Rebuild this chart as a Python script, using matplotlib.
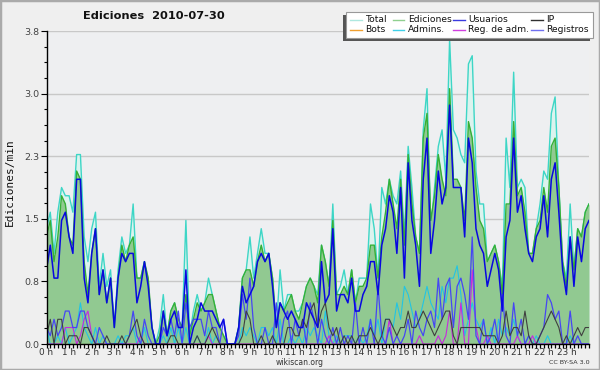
import numpy as np
import matplotlib
matplotlib.use("Agg")
import matplotlib.pyplot as plt
from matplotlib.patches import Rectangle
from matplotlib.lines import Line2D
from matplotlib.ticker import MultipleLocator, FixedLocator, FuncFormatter

# ---- data: edits per minute, 10-minute steps, 2010-07-30 ----
total = [1.4,1.6,1.1,1.6,1.9,1.8,1.8,1.6,2.3,2.3,1.3,1.0,
         1.4,1.6,0.7,1.1,0.7,0.9,0.2,0.9,1.3,1.1,1.2,1.7,
         0.8,0.8,1.0,0.7,0.2,0.0,0.2,0.6,0.1,0.4,0.5,0.3,
         0.2,1.5,0.1,0.4,0.6,0.4,0.5,0.8,0.6,0.4,0.2,0.1,
         0.0,0.0,0.0,0.2,0.8,0.9,1.3,0.8,1.1,1.4,1.1,1.1,
         0.8,0.2,0.9,0.4,0.6,0.6,0.4,0.4,0.5,0.7,0.8,0.7,
         0.6,1.2,1.0,0.7,1.7,0.6,0.7,0.9,0.6,0.9,0.5,0.8,
         0.8,0.8,1.7,1.4,0.8,1.9,1.7,2.0,1.8,1.7,2.1,1.3,
         2.4,1.9,1.3,1.1,2.6,3.1,1.4,1.9,2.4,2.6,2.0,3.7,
         2.6,2.5,2.3,2.2,3.4,3.5,2.1,1.7,1.7,1.0,1.1,1.2,
         1.0,0.7,2.5,1.9,3.3,1.9,2.0,1.9,1.1,1.1,1.4,1.7,
         2.1,2.0,2.8,3.0,1.9,1.0,0.8,1.7,0.9,1.4,1.3,1.6,
         1.7]
ediciones = [1.3,1.5,1.0,1.3,1.8,1.7,1.3,1.2,2.1,2.0,1.0,0.6,
             1.1,1.4,0.6,0.9,0.5,0.8,0.2,0.8,1.2,1.0,1.2,1.3,
             0.8,0.8,1.0,0.8,0.2,0.0,0.1,0.4,0.1,0.4,0.5,0.3,
             0.2,0.6,0.1,0.3,0.5,0.4,0.5,0.6,0.6,0.4,0.2,0.1,
             0.0,0.0,0.0,0.2,0.8,0.9,0.9,0.7,1.0,1.2,1.0,1.1,
             0.8,0.2,0.5,0.4,0.5,0.6,0.4,0.3,0.5,0.7,0.8,0.7,
             0.5,1.2,1.0,0.7,1.5,0.6,0.6,0.7,0.6,0.9,0.5,0.7,
             0.7,0.8,1.2,1.2,0.8,1.3,1.6,2.0,1.7,1.4,2.0,1.2,
             2.3,1.7,1.3,1.1,2.5,2.8,1.5,1.8,2.3,2.0,1.8,3.1,
             2.0,2.0,1.9,1.5,2.7,2.5,1.9,1.5,1.4,1.0,1.1,1.2,
             1.0,0.6,1.7,1.7,2.7,1.8,1.9,1.6,1.1,1.1,1.4,1.5,
             1.9,1.6,2.4,2.5,1.9,1.0,0.7,1.3,0.9,1.4,1.3,1.6,
             1.7]
usuarios = [0.9,1.2,0.8,0.8,1.5,1.6,1.3,1.1,2.0,2.0,0.8,0.5,
            1.1,1.4,0.6,0.9,0.5,0.8,0.2,0.8,1.1,1.0,1.1,1.1,
            0.5,0.7,1.0,0.7,0.2,0.0,0.0,0.4,0.1,0.3,0.4,0.2,
            0.2,0.9,0.0,0.2,0.3,0.5,0.4,0.4,0.4,0.3,0.2,0.3,
            0.0,0.0,0.0,0.2,0.7,0.5,0.6,0.7,1.0,1.1,1.0,1.1,
            0.7,0.2,0.5,0.4,0.3,0.4,0.3,0.2,0.2,0.5,0.4,0.3,
            0.2,1.0,0.5,0.6,1.4,0.4,0.6,0.6,0.5,0.8,0.4,0.4,
            0.6,0.7,1.0,1.0,0.6,1.2,1.4,1.8,1.6,1.1,1.9,0.8,
            2.2,1.5,1.2,0.7,2.0,2.5,1.1,1.5,2.1,1.7,1.9,2.9,
            1.9,1.9,1.9,1.3,2.5,2.2,1.4,1.2,1.1,0.7,0.9,1.1,
            0.9,0.4,1.3,1.5,2.5,1.6,1.8,1.4,1.1,1.0,1.3,1.4,
            1.8,1.3,2.0,2.2,1.6,0.9,0.6,1.3,0.7,1.3,1.0,1.4,
            1.5]
ip = [0.1,0.3,0.0,0.3,0.3,0.0,0.1,0.1,0.1,0.0,0.2,0.2,
      0.1,0.0,0.0,0.0,0.1,0.0,0.0,0.0,0.1,0.0,0.1,0.2,
      0.3,0.1,0.0,0.0,0.0,0.0,0.0,0.0,0.0,0.1,0.1,0.0,
      0.0,0.0,0.0,0.0,0.1,0.0,0.0,0.1,0.2,0.1,0.0,0.0,
      0.0,0.0,0.0,0.0,0.1,0.4,0.3,0.0,0.0,0.1,0.0,0.0,
      0.1,0.0,0.0,0.0,0.2,0.2,0.1,0.1,0.3,0.2,0.4,0.5,
      0.2,0.4,0.5,0.2,0.1,0.2,0.0,0.1,0.0,0.1,0.0,0.1,
      0.1,0.1,0.2,0.1,0.0,0.1,0.3,0.3,0.2,0.1,0.2,0.2,
      0.4,0.2,0.2,0.3,0.4,0.3,0.2,0.1,0.2,0.3,0.4,0.4,
      0.1,0.0,0.2,0.2,0.2,0.2,0.2,0.2,0.1,0.1,0.1,0.1,
      0.0,0.1,0.4,0.1,0.2,0.2,0.1,0.4,0.1,0.0,0.0,0.1,
      0.2,0.3,0.4,0.3,0.2,0.0,0.1,0.0,0.1,0.2,0.1,0.2,
      0.2]
bots = [0.0] * 145
admins = [0.2,0.0,0.0,0.1,0.0,0.2,0.0,0.1,0.2,0.5,0.2,0.1,
          0.0,0.2,0.0,0.1,0.0,0.0,0.0,0.1,0.0,0.1,0.1,0.2,
          0.0,0.0,0.2,0.0,0.0,0.0,0.0,0.1,0.0,0.2,0.0,0.2,
          0.0,0.2,0.0,0.0,0.1,0.0,0.0,0.2,0.0,0.1,0.0,0.0,
          0.0,0.0,0.0,0.0,0.2,0.1,0.2,0.1,0.0,0.2,0.2,0.1,
          0.2,0.0,0.3,0.0,0.0,0.1,0.0,0.1,0.0,0.2,0.1,0.2,
          0.1,0.0,0.4,0.1,0.0,0.1,0.0,0.1,0.1,0.1,0.0,0.1,
          0.0,0.1,0.3,0.1,0.3,0.0,0.3,0.3,0.2,0.5,0.3,0.7,
          0.6,0.4,0.2,0.3,0.5,0.7,0.5,0.4,0.3,0.7,0.5,0.8,
          0.8,0.95,0.6,0.1,0.3,0.5,0.3,0.2,0.3,0.0,0.2,0.0,
          0.3,0.1,0.2,0.1,0.3,0.1,0.0,0.0,0.1,0.0,0.1,0.0,
          0.0,0.1,0.0,0.0,0.0,0.0,0.0,0.1,0.0,0.0,0.0,0.0,
          0.0]
reg_adm = [0.0,0.0,0.0,0.0,0.0,0.2,0.2,0.2,0.0,0.1,0.3,0.4,
           0.1,0.0,0.0,0.0,0.0,0.0,0.0,0.0,0.0,0.0,0.0,0.0,
           0.0,0.1,0.0,0.0,0.0,0.0,0.0,0.0,0.0,0.0,0.0,0.0,
           0.0,0.0,0.0,0.0,0.0,0.0,0.0,0.1,0.0,0.0,0.0,0.0,
           0.0,0.0,0.0,0.0,0.0,0.0,0.0,0.0,0.0,0.0,0.0,0.0,
           0.0,0.0,0.0,0.0,0.0,0.0,0.0,0.0,0.0,0.0,0.0,0.0,
           0.0,0.0,0.0,0.1,0.0,0.0,0.0,0.0,0.0,0.0,0.0,0.0,
           0.0,0.0,0.0,0.0,0.0,0.0,0.0,0.3,0.0,0.0,0.0,0.0,
           0.0,0.0,0.0,0.1,0.0,0.0,0.0,0.0,0.1,0.0,0.1,0.4,
           0.0,0.0,0.5,0.0,0.0,0.9,0.2,0.0,0.0,0.1,0.0,0.0,
           0.0,0.0,0.0,0.0,0.0,0.1,0.0,0.0,0.0,0.1,0.0,0.0,
           0.0,0.0,0.0,0.0,0.0,0.0,0.0,0.0,0.0,0.0,0.0,0.0,
           0.0]
registros = [0.2,0.1,0.3,0.1,0.2,0.4,0.4,0.2,0.2,0.4,0.4,0.2,
             0.1,0.0,0.2,0.1,0.0,0.0,0.0,0.0,0.0,0.0,0.1,0.4,
             0.1,0.0,0.3,0.1,0.0,0.0,0.0,0.2,0.1,0.3,0.1,0.4,
             0.0,0.5,0.2,0.3,0.3,0.3,0.1,0.4,0.2,0.2,0.0,0.3,
             0.0,0.0,0.0,0.1,0.6,0.3,0.8,0.2,0.0,0.0,0.2,0.0,
             0.0,0.5,0.0,0.3,0.4,0.0,0.3,0.1,0.3,0.0,0.5,0.3,
             0.0,0.3,0.1,0.0,0.2,0.0,0.2,0.0,0.1,0.0,0.5,0.0,
             0.2,0.0,0.3,0.0,0.7,0.1,0.0,0.2,0.0,0.1,0.0,0.1,
             0.3,0.0,0.4,0.2,0.1,0.3,0.4,0.2,0.8,0.3,0.7,0.8,
             0.2,0.7,0.8,0.6,0.3,1.3,0.1,0.0,0.3,0.0,0.1,0.3,
             0.0,0.6,0.1,0.0,0.5,0.1,0.3,0.0,0.1,0.0,0.0,0.1,
             0.2,0.6,0.5,0.3,0.4,0.0,0.0,0.4,0.0,0.1,0.0,0.0,
             0.0]

legend_labels = ["Total", "Ediciones", "Usuarios", "IP",
                 "Bots", "Admins.", "Reg. de adm.", "Registros"]
title_text = "Ediciones  2010-07-30"
ylabel_text = "Ediciones/min"
y_ticks = [0.0, 0.76, 1.52, 2.28, 3.04, 3.8]
hours = list(range(24))

# ---- figure ----
W, H = 600, 370
fig = plt.figure(figsize=(6, 3.7), dpi=100, facecolor="#efefef")

def fx(px):
    return px / W

def fy(py):
    return 1 - py / H

ax = fig.add_axes([fx(46.5), fy(344), (589 - 46.5) / W, (344 - 31) / H])
ax.set_facecolor("#eeeff1")

x = np.arange(len(total)) / 6.0

ax.fill_between(x, total, color="#dcf3ee", lw=0, zorder=2)
ax.plot(x, total, color="#3dd6c6", lw=1.0, zorder=3)
ax.fill_between(x, ediciones, color="#91c991", lw=0, zorder=4)
ax.plot(x, ediciones, color="#36b036", lw=1.0, zorder=5)
ax.plot(x, bots, color="#f0a030", lw=0.8, zorder=5)
ax.plot(x, admins, color="#22c4e4", lw=0.8, zorder=6)
ax.plot(x, reg_adm, color="#c828e0", lw=0.8, zorder=6)
ax.plot(x, registros, color="#4646f4", lw=0.9, zorder=6)
ax.plot(x, ip, color="#404040", lw=0.8, zorder=7)
ax.plot(x, usuarios, color="#0808e0", lw=1.1, zorder=8)

ax.set_xlim(0, 24)
ax.set_ylim(0, 3.8)

for s in ("top", "right"):
    ax.spines[s].set_visible(False)
for s in ("left", "bottom"):
    ax.spines[s].set_color("black")
    ax.spines[s].set_linewidth(1.0)
    ax.spines[s].set_zorder(10)

ax.yaxis.set_major_locator(FixedLocator(y_ticks))
ax.yaxis.set_major_formatter(FuncFormatter(lambda v, p: f"{v:.1f}"))
ax.yaxis.set_minor_locator(MultipleLocator(0.19))
ax.xaxis.set_major_locator(FixedLocator(hours))
ax.xaxis.set_major_formatter(FuncFormatter(lambda v, p: f"{int(round(v))} h"))
ax.xaxis.set_minor_locator(MultipleLocator(1 / 6))

ax.tick_params(axis="y", which="major", direction="out", length=4.5, width=0.8,
               labelsize=6.8, colors="black", labelcolor="#444444", pad=0.5)
ax.tick_params(axis="y", which="minor", direction="out", length=2.5, width=0.8, colors="black")
ax.tick_params(axis="x", which="major", direction="out", length=2.8, width=0.9,
               labelsize=6.4, colors="black", labelcolor="#333333", pad=0.2)
ax.tick_params(axis="x", which="minor", direction="out", length=2.8, width=0.9, colors="black")

ax.grid(axis="y", which="major", color="#c8c8c8", lw=1.0, zorder=1)
ax.set_axisbelow(True)

# title & texts
fig.text(fx(153.5), fy(16), title_text, ha="center", va="center",
         fontsize=8.2, fontweight="bold", color="#111111")
fig.text(fx(10), fy(182), ylabel_text, ha="center", va="center", rotation=90,
         fontsize=8, family="DejaVu Sans Mono", color="#111111")
fig.text(fx(300), fy(362.5), "wikiscan.org", ha="center", va="center",
         fontsize=5.5, color="#333333")
fig.text(fx(569), fy(362.5), "CC BY-SA 3.0", ha="center", va="center",
         fontsize=4.6, color="#333333")

# legend (manual)
fig.patches.append(Rectangle((fx(343), fy(41)), (590 - 343) / W, (41 - 15) / H,
                             transform=fig.transFigure, facecolor="#555555",
                             edgecolor="none", zorder=20))
fig.patches.append(Rectangle((fx(346), fy(38.3)), (593 - 346) / W, (38.3 - 12.5) / H,
                             transform=fig.transFigure, facecolor="white",
                             edgecolor="#999999", lw=0.8, zorder=21))
leg_colors = ["#aee8e0", "#8fd08f", "#3a3ae0", "#303030",
              "#f0a030", "#40d0e8", "#d040e0", "#7070f0"]
col_x = [350, 392.5, 453, 531]
row_y = [19.5, 29.5]
for k, lab in enumerate(legend_labels):
    r, c = divmod(k, 4)
    lx = col_x[c]
    ly = row_y[r]
    fig.add_artist(Line2D([fx(lx), fx(lx + 11.5)], [fy(ly), fy(ly)],
                          transform=fig.transFigure, color=leg_colors[k],
                          lw=1.0, zorder=22))
    fig.text(fx(lx + 15.5), fy(ly), lab, ha="left", va="center",
             fontsize=6.6, color="#111111", zorder=23)

# outer frame
fig.patches.append(Rectangle((0, 0), 1, 1, transform=fig.transFigure,
                             fill=False, edgecolor="#aaaaaa", lw=2.5, zorder=30))

fig.savefig("out.png", dpi=100, facecolor=fig.get_facecolor())
